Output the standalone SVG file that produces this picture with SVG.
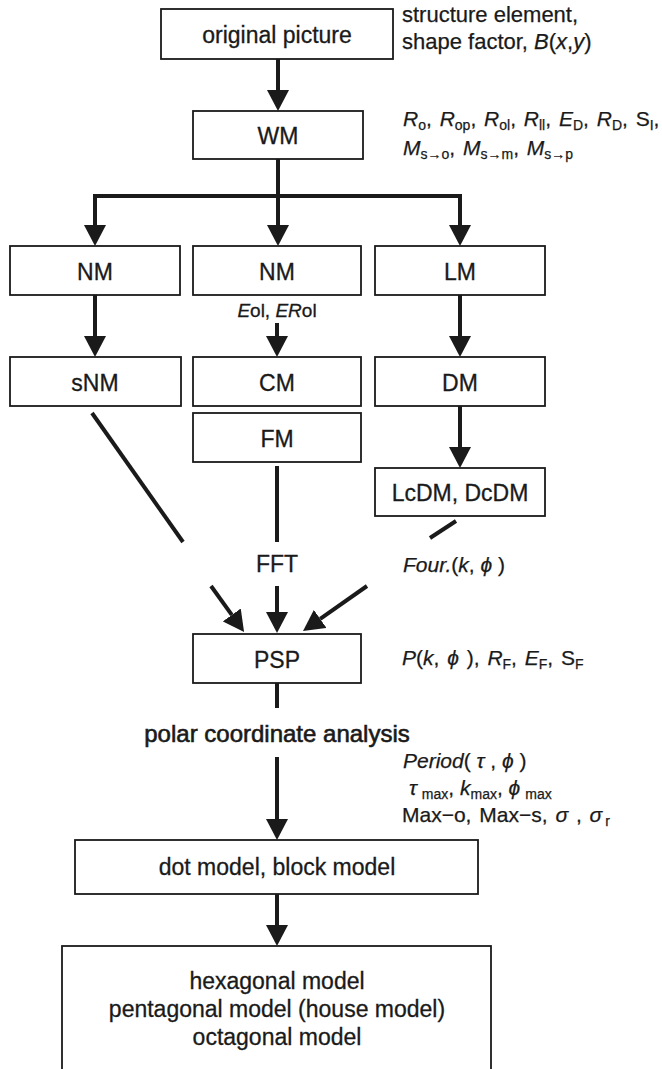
<svg xmlns="http://www.w3.org/2000/svg" width="662" height="1069" viewBox="0 0 662 1069">
<style>
.box{fill:#fff;stroke:#1a1a1a;stroke-width:1.8}
.lbl{font-family:"Liberation Sans",Arial,sans-serif;font-size:23px;fill:#1a1a1a;stroke:#1a1a1a;stroke-width:0.3;text-anchor:middle}
.ann{font-family:"Liberation Sans",Arial,sans-serif;font-size:22px;fill:#1a1a1a;stroke:#1a1a1a;stroke-width:0.25}
.it{font-style:italic}
.sub{font-size:14px}
.con{fill:none;stroke:#1a1a1a;stroke-width:4;stroke-linejoin:miter}
.arr{marker-end:url(#ah)}
</style>
<defs>
<marker id="ah" markerUnits="userSpaceOnUse" viewBox="0 0 21 22" refX="0" refY="11" markerWidth="21" markerHeight="22" orient="auto">
<path d="M0,0 L21,11 L0,22 Z" fill="#1a1a1a"/>
</marker>
</defs>
<rect width="662" height="1069" fill="#fff"/>

<g id="connectors">
<path class="con arr" d="M278,59 V90"/>
<path class="con arr" d="M278,159 V225"/>
<path class="con arr" d="M278,196 H95 V225"/>
<path class="con arr" d="M278,196 H460 V225"/>
<path class="con arr" d="M95,295 V336"/>
<path class="con arr" d="M277,323 V336"/>
<path class="con arr" d="M460,295 V336"/>
<path class="con arr" d="M460,406 V447"/>
<path class="con" d="M92,413 L183,542"/>
<path class="con" d="M277,466 V542"/>
<path class="con" d="M456,521 L430,538"/>
<path class="con arr" d="M211,586 L231.8,614.9"/>
<path class="con arr" d="M277,586 V612"/>
<path class="con arr" d="M367,586 L320.2,618.9"/>
<path class="con" d="M277,683 V708"/>
<path class="con arr" d="M277,757 V819"/>
<path class="con arr" d="M277,894 V925"/>
</g>

<g id="n-orig"><rect class="box" x="161" y="9" width="232" height="50"/><text class="lbl" x="277" y="43">original picture</text></g>
<g id="n-wm"><rect class="box" x="193" y="111" width="170" height="48"/><text class="lbl" x="278" y="144">WM</text></g>
<g id="n-nm1"><rect class="box" x="10" y="246" width="170" height="49"/><text class="lbl" x="95" y="280">NM</text></g>
<g id="n-nm2"><rect class="box" x="193" y="246" width="168" height="49"/><text class="lbl" x="277" y="280">NM</text></g>
<g id="n-lm"><rect class="box" x="375" y="246" width="170" height="49"/><text class="lbl" x="460" y="280">LM</text></g>
<g id="n-snm"><rect class="box" x="10" y="357" width="171" height="49"/><text class="lbl" x="95" y="391">sNM</text></g>
<g id="n-cm"><rect class="box" x="193" y="357" width="168" height="49"/><text class="lbl" x="277" y="391">CM</text></g>
<g id="n-dm"><rect class="box" x="375" y="357" width="170" height="49"/><text class="lbl" x="460" y="391">DM</text></g>
<g id="n-fm"><rect class="box" x="193" y="413" width="168" height="49"/><text class="lbl" x="277" y="447">FM</text></g>
<g id="n-lcdm"><rect class="box" x="375" y="468" width="170" height="48"/><text class="lbl" x="460" y="501">LcDM, DcDM</text></g>
<g id="n-psp"><rect class="box" x="193" y="634" width="168" height="49"/><text class="lbl" x="277" y="668">PSP</text></g>
<g id="n-dot"><rect class="box" x="75" y="840" width="403" height="54"/><text class="lbl" x="277" y="875">dot model, block model</text></g>
<g id="n-models"><rect class="box" x="62" y="946" width="429" height="140"/>
<text class="lbl" x="277" y="989">hexagonal model</text>
<text class="lbl" x="277" y="1017">pentagonal model (house model)</text>
<text class="lbl" x="277" y="1045">octagonal model</text></g>

<g id="labels">
<text class="lbl" x="277" y="572">FFT</text>
<text class="lbl" x="277" y="742" style="font-size:24px;stroke-width:0.6">polar coordinate analysis</text>
<text class="lbl" x="277" y="317" style="font-size:19px"><tspan class="it">E</tspan>ol, <tspan class="it">ER</tspan>ol</text>
<text class="ann" x="402" y="22">structure element,</text>
<text class="ann" x="402" y="49">shape factor, <tspan class="it">B</tspan>(<tspan class="it">x</tspan>,<tspan class="it">y</tspan>)</text>
<text class="ann" x="403" y="126" style="font-size:21px;word-spacing:2px"><tspan class="it">R</tspan><tspan class="sub" dy="4">o</tspan><tspan dy="-4">, </tspan><tspan class="it">R</tspan><tspan class="sub" dy="4">op</tspan><tspan dy="-4">, </tspan><tspan class="it">R</tspan><tspan class="sub" dy="4">ol</tspan><tspan dy="-4">, </tspan><tspan class="it">R</tspan><tspan class="sub" dy="4">ll</tspan><tspan dy="-4">, </tspan><tspan class="it">E</tspan><tspan class="sub" dy="4">D</tspan><tspan dy="-4">, </tspan><tspan class="it">R</tspan><tspan class="sub" dy="4">D</tspan><tspan dy="-4">, S</tspan><tspan class="sub" dy="4">I</tspan><tspan dy="-4">,</tspan></text>
<text class="ann" x="403" y="155" style="font-size:21px;word-spacing:2px"><tspan class="it">M</tspan><tspan class="sub" dy="4">s→o</tspan><tspan dy="-4">, </tspan><tspan class="it">M</tspan><tspan class="sub" dy="4">s→m</tspan><tspan dy="-4">, </tspan><tspan class="it">M</tspan><tspan class="sub" dy="4">s→p</tspan></text>
<text class="ann" x="403" y="572" style="font-size:21px"><tspan class="it">Four.</tspan>(<tspan class="it">k</tspan>, <tspan class="it">ϕ</tspan> )</text>
<text class="ann" x="402" y="665" style="font-size:21px;word-spacing:2px"><tspan class="it">P</tspan>(<tspan class="it">k</tspan>, <tspan class="it">ϕ</tspan> ), <tspan class="it">R</tspan><tspan class="sub" dy="4">F</tspan><tspan dy="-4">, </tspan><tspan class="it">E</tspan><tspan class="sub" dy="4">F</tspan><tspan dy="-4">, S</tspan><tspan class="sub" dy="4">F</tspan></text>
<text class="ann" x="403" y="768" style="font-size:21px"><tspan class="it">Period</tspan>( <tspan class="it">τ</tspan> , <tspan class="it">ϕ</tspan> )</text>
<text class="ann" x="409" y="795" style="font-size:21px"><tspan class="it">τ</tspan><tspan class="sub" dx="5" dy="4">max</tspan><tspan dy="-4">,  </tspan><tspan class="it">k</tspan><tspan class="sub" dy="4">max</tspan><tspan dy="-4">,   </tspan><tspan class="it">ϕ</tspan><tspan class="sub" dx="5" dy="4">max</tspan></text>
<text class="ann" x="402" y="822" style="font-size:21px;word-spacing:2px">Max−o, Max−s, <tspan class="it">σ</tspan> , <tspan class="it">σ</tspan><tspan class="sub" dx="3" dy="4">r</tspan></text>
</g>
</svg>
